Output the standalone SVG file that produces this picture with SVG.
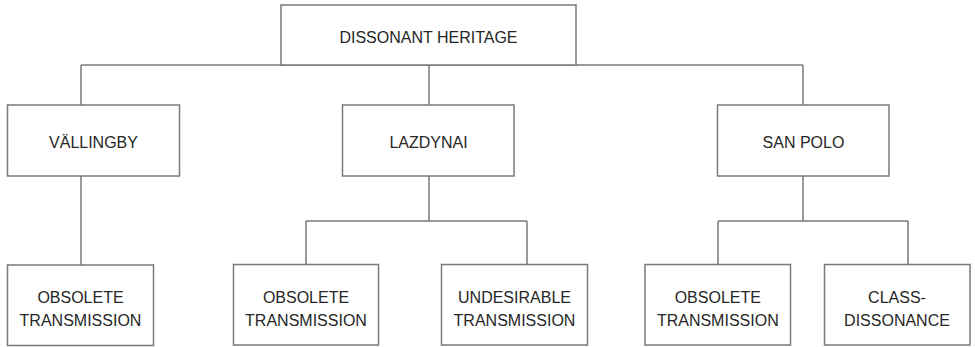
<svg xmlns="http://www.w3.org/2000/svg" width="975" height="347" viewBox="0 0 975 347">
  <style>
    .box { fill: #ffffff; stroke: #7a7a7a; stroke-width: 1.5; }
    .link { fill: none; stroke: #7a7a7a; stroke-width: 1.5; }
    .label { font-family: "Liberation Sans", Arial, sans-serif; font-size: 16px; fill: #262626; text-anchor: middle; }
  </style>
  <rect width="975" height="347" fill="#ffffff"/>

  <!-- tree connectors -->
  <g id="connectors">
    <path class="link" d="M81,65 H803 M81,65 V105 M429,65 V105 M803,65 V105"/>
    <path class="link" d="M81,176 V265"/>
    <path class="link" d="M429,176 V221 M306,221 H527 M306,221 V264.5 M527,221 V264.5"/>
    <path class="link" d="M803,176 V221 M718,221 H908 M718,221 V264.5 M908,221 V264.5"/>
  </g>

  <g id="dissonant-heritage">
    <rect class="box" x="281" y="5" width="295" height="60"/>
    <text class="label" x="428.5" y="43">DISSONANT HERITAGE</text>
  </g>

  <g id="vallingby">
    <rect class="box" x="7.5" y="105" width="172" height="71"/>
    <text class="label" x="93.5" y="147.5">VÄLLINGBY</text>
  </g>
  <g id="lazdynai">
    <rect class="box" x="342.5" y="105" width="171.5" height="71"/>
    <text class="label" x="428.5" y="147.5">LAZDYNAI</text>
  </g>
  <g id="san-polo">
    <rect class="box" x="717.5" y="105" width="171.5" height="71"/>
    <text class="label" x="803.5" y="147.5">SAN POLO</text>
  </g>

  <g id="vallingby-obsolete">
    <rect class="box" x="7.5" y="265" width="146" height="80.5"/>
    <text class="label" x="80.5" y="302.5">OBSOLETE</text>
    <text class="label" x="80.5" y="325.5">TRANSMISSION</text>
  </g>
  <g id="lazdynai-obsolete">
    <rect class="box" x="233.5" y="264.5" width="145" height="80.5"/>
    <text class="label" x="306" y="302.5">OBSOLETE</text>
    <text class="label" x="306" y="325.5">TRANSMISSION</text>
  </g>
  <g id="lazdynai-undesirable">
    <rect class="box" x="441.5" y="264.5" width="146" height="80.5"/>
    <text class="label" x="514.5" y="302.5">UNDESIRABLE</text>
    <text class="label" x="514.5" y="325.5">TRANSMISSION</text>
  </g>
  <g id="san-polo-obsolete">
    <rect class="box" x="645" y="264.5" width="145.5" height="80.5"/>
    <text class="label" x="717.8" y="302.5">OBSOLETE</text>
    <text class="label" x="717.8" y="325.5">TRANSMISSION</text>
  </g>
  <g id="san-polo-class">
    <rect class="box" x="824.5" y="264.5" width="145.5" height="80.5"/>
    <text class="label" x="897" y="302.5">CLASS-</text>
    <text class="label" x="897" y="325.5">DISSONANCE</text>
  </g>
</svg>
